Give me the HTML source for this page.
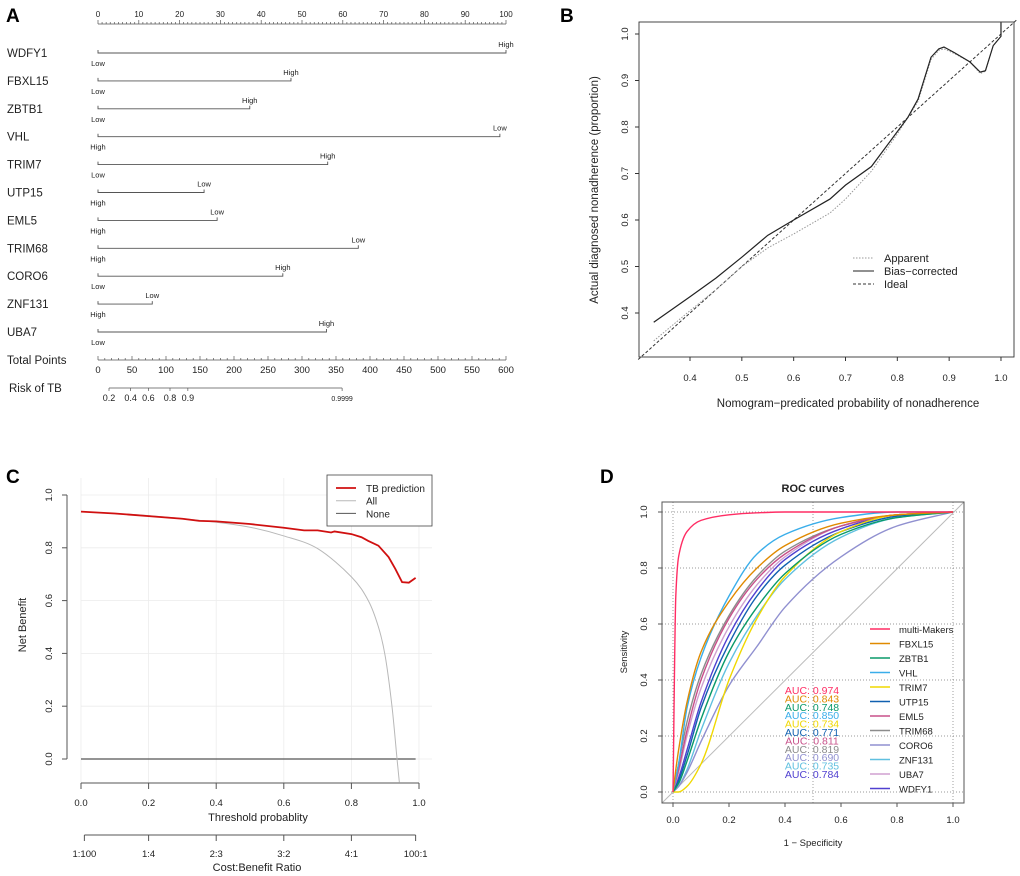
<!DOCTYPE html>
<html><head><meta charset="utf-8"><style>
html,body{margin:0;padding:0;background:#fff}
svg{display:block;font-family:"Liberation Sans",Arial,sans-serif}
</style></head><body>
<svg id="fig" width="1020" height="876" viewBox="0 0 1020 876" xmlns="http://www.w3.org/2000/svg">
<text x="6" y="22" font-size="19" font-weight="bold">A</text>
<text x="560" y="22" font-size="19" font-weight="bold">B</text>
<text x="6" y="483" font-size="19" font-weight="bold">C</text>
<text x="600" y="483" font-size="19" font-weight="bold">D</text>
</svg>
<script>
// ---------- data ----------
const nomoVars=['WDFY1','FBXL15','ZBTB1','VHL','TRIM7','UTP15','EML5','TRIM68','CORO6','ZNF131','UBA7'];
const nomoPoints=[100,47.3,37.2,98.5,56.3,26,29.2,63.8,45.3,13.3,56];
const nomoStart=['Low','Low','Low','High','Low','High','High','High','Low','High','Low'];
const nomoEnd=['High','High','High','Low','High','Low','Low','Low','High','Low','High'];
const riskTicks=[0.2,0.4,0.6,0.8,0.9,0.9999];
const riskTickLabels=['0.2','0.4','0.6','0.8','0.9','0.9999'];

const calX=[0.33,0.4,0.45,0.5,0.55,0.6,0.67,0.7,0.75,0.8,0.82,0.84,0.865,0.88,0.89,0.91,0.94,0.96,0.97,0.985,1.0,1.0];
const calBias=[0.38,0.435,0.475,0.52,0.567,0.6,0.645,0.675,0.715,0.79,0.82,0.86,0.95,0.968,0.972,0.96,0.94,0.918,0.921,0.975,0.995,1.025];
const calApparent=[0.34,0.405,0.45,0.5,0.54,0.57,0.615,0.645,0.705,0.785,0.82,0.855,0.945,0.965,0.968,0.958,0.94,0.915,0.92,0.975,0.995,1.025];
const calTicks=[0.4,0.5,0.6,0.7,0.8,0.9,1.0];

const dcaT=[0,0.1,0.2,0.3,0.35,0.4,0.5,0.6,0.66,0.7,0.74,0.75,0.8,0.83,0.85,0.88,0.91,0.93,0.95,0.97,0.99];
const dcaModel=[0.937,0.93,0.92,0.91,0.902,0.9,0.89,0.876,0.866,0.866,0.858,0.862,0.852,0.84,0.826,0.808,0.765,0.72,0.67,0.668,0.686];
const dcaAllT=[0,0.2,0.4,0.5,0.6,0.7,0.8,0.85,0.88,0.9,0.92,0.935,0.942];
const dcaAll=[0.937,0.922,0.897,0.878,0.845,0.797,0.69,0.6,0.5,0.39,0.2,0.0,-0.09];
const dcaTicks=[0,0.2,0.4,0.6,0.8,1.0];
const costT=[0.01,0.2,0.4,0.6,0.8,0.99];
const costLabels=['1:100','1:4','2:3','3:2','4:1','100:1'];

const rocFpr=[0,0.01,0.02,0.05,0.1,0.2,0.3,0.4,0.6,0.8,1];
const rocNames=['multi-Makers','FBXL15','ZBTB1','VHL','TRIM7','UTP15','EML5','TRIM68','CORO6','ZNF131','UBA7','WDFY1'];
const rocAUC=['0.974','0.843','0.748','0.850','0.734','0.771','0.811','0.819','0.690','0.735','0.784'];
const rocTpr=[
[0,0.7,0.84,0.93,0.97,0.99,0.997,1,1,1,1],
[0,0.08,0.15,0.32,0.5,0.68,0.8,0.88,0.96,0.99,1],
[0,0.015,0.03,0.11,0.26,0.5,0.66,0.78,0.92,0.98,1],
[0,0.05,0.1,0.3,0.48,0.7,0.85,0.92,0.98,1,1],
[0,0,0,0.02,0.1,0.4,0.62,0.77,0.93,0.99,1],
[0,0.02,0.04,0.13,0.3,0.53,0.7,0.81,0.93,0.985,1],
[0,0.04,0.08,0.22,0.4,0.62,0.76,0.85,0.95,0.99,1],
[0,0.05,0.1,0.25,0.42,0.63,0.77,0.86,0.95,0.99,1],
[0,0.01,0.02,0.07,0.18,0.38,0.52,0.66,0.84,0.95,1],
[0,0.01,0.02,0.08,0.22,0.46,0.63,0.76,0.91,0.98,1],
[0,0.035,0.07,0.2,0.37,0.59,0.74,0.84,0.95,0.99,1],
[0,0.025,0.05,0.15,0.32,0.56,0.72,0.83,0.94,0.99,1]];
const rocAUCOrder=['0.974','0.843','0.748','0.850','0.734','0.771','0.811','0.819','0.690','0.735','0.784'];
const rocColors=['#ff2d64','#e08a00','#0a9a6a','#3aaeea','#f0d800','#1060b0','#c8508a','#8c8c8c','#9090d0','#60c0e0','#d0a0d0','#5040d0'];

// ---------- helpers ----------
const NS='http://www.w3.org/2000/svg';
const svg=document.getElementById('fig');
function mk(tag,attrs,parent){const e=document.createElementNS(NS,tag);for(const k in attrs)e.setAttribute(k,attrs[k]);(parent||svg).appendChild(e);return e;}
function txt(x,y,s,size,extra){const e=mk('text',Object.assign({x:x,y:y,'font-size':size,fill:'#222'},extra||{}));e.textContent=s;return e;}
function smoothPath(pts){let d='M'+pts[0][0]+','+pts[0][1];for(let i=0;i<pts.length-1;i++){const p0=pts[i-1]||pts[i],p1=pts[i],p2=pts[i+1],p3=pts[i+2]||p2;const c1=[p1[0]+(p2[0]-p0[0])/6,p1[1]+(p2[1]-p0[1])/6],c2=[p2[0]-(p3[0]-p1[0])/6,p2[1]-(p3[1]-p1[1])/6];d+=' C'+c1[0]+','+c1[1]+' '+c2[0]+','+c2[1]+' '+p2[0]+','+p2[1];}return d;}
function monoPath(pts){const n=pts.length;const dx=[],s=[];for(let i=0;i<n-1;i++){dx.push(pts[i+1][0]-pts[i][0]);s.push((pts[i+1][1]-pts[i][1])/dx[i]);}
const m=[s[0]];for(let i=1;i<n-1;i++){if(s[i-1]*s[i]<=0)m.push(0);else{const w1=2*dx[i]+dx[i-1],w2=dx[i]+2*dx[i-1];m.push((w1+w2)/(w1/s[i-1]+w2/s[i]));}}m.push(s[n-2]);
let d='M'+pts[0][0]+','+pts[0][1];for(let i=0;i<n-1;i++){const h=dx[i]/3;d+=' C'+(pts[i][0]+h)+','+(pts[i][1]+m[i]*h)+' '+(pts[i+1][0]-h)+','+(pts[i+1][1]-m[i+1]*h)+' '+pts[i+1][0]+','+pts[i+1][1];}return d;}
function polyPath(pts){return 'M'+pts.map(p=>p[0]+','+p[1]).join(' L');}

// ---------- Panel A: nomogram ----------
const gA=mk('g',{});


const xA=p=>98+p*4.08;
const xTot=p=>98+p*0.68;
let ax=mk('line',{x1:xA(0),x2:xA(100),y1:24,y2:24,stroke:'#555','stroke-width':0.8},gA);


for(let p=0;p<=100;p++){const t=mk('line',{x1:xA(p),x2:xA(p),y1:24,y2:p%10===0?20:22,stroke:'#555','stroke-width':0.7},gA);


if(p%10===0){const l=txt(xA(p),17,String(p),8,{'text-anchor':'middle'});gA.appendChild(l);

}}
nomoVars.forEach((v,i)=>{const y=53+i*27.9;
const n=txt(7,y+4,v,11.5);gA.appendChild(n);


const ln=mk('path',{d:`M${xA(0)},${y-3} V${y} H${xA(nomoPoints[i])} V${y-3}`,fill:'none',stroke:'#555','stroke-width':0.9},gA);


const e=txt(xA(nomoPoints[i]),y-6,nomoEnd[i],7.5,{'text-anchor':'middle'});gA.appendChild(e);


const s=txt(xA(0),y+13,nomoStart[i],7.5,{'text-anchor':'middle'});gA.appendChild(s);

});
let tp=txt(7,364,'Total Points',11.5);gA.appendChild(tp);


ax=mk('line',{x1:xTot(0),x2:xTot(600),y1:360,y2:360,stroke:'#555','stroke-width':0.8},gA);


for(let p=0;p<=600;p+=10){const t=mk('line',{x1:xTot(p),x2:xTot(p),y1:360,y2:p%50===0?356:358,stroke:'#555','stroke-width':0.7},gA);


if(p%50===0){const l=txt(xTot(p),373,String(p),9.5,{'text-anchor':'middle'});gA.appendChild(l);

}}
let rk=txt(9,392,'Risk of TB',11.5);gA.appendChild(rk);


const logit=p=>Math.log(p/(1-p));
const xRisk=p=>109+(logit(p)-logit(0.2))*22;
ax=mk('line',{x1:xRisk(0.2),x2:xRisk(0.9999),y1:388,y2:388,stroke:'#555','stroke-width':0.8},gA);


riskTicks.forEach((r,i)=>{const t=mk('line',{x1:xRisk(r),x2:xRisk(r),y1:388,y2:391,stroke:'#555','stroke-width':0.7},gA);


const l=txt(xRisk(r),401,riskTickLabels[i],i===5?7:9,{'text-anchor':'middle'});gA.appendChild(l);

});

// ---------- Panel B: calibration ----------
const gB=mk('g',{});


const xB=v=>690+(v-0.4)*518.3, yB=v=>34+(1-v)*465;
let box=mk('rect',{x:639,y:22,width:375,height:335,fill:'none',stroke:'#333','stroke-width':0.9},gB);


calTicks.forEach(v=>{let t=mk('line',{x1:xB(v),x2:xB(v),y1:357,y2:361,stroke:'#333'},gB);


let l=txt(xB(v),381,v.toFixed(1),9.5,{'text-anchor':'middle'});gB.appendChild(l);


t=mk('line',{x1:635,x2:639,y1:yB(v),y2:yB(v),stroke:'#333'},gB);


l=txt(0,0,v.toFixed(1),9.5,{'text-anchor':'middle',transform:`translate(628,${yB(v)}) rotate(-90)`});gB.appendChild(l);

});
let bt=txt(0,0,'Actual diagnosed nonadherence (proportion)',11.5,{'text-anchor':'middle',transform:'translate(598,190) rotate(-90)'});gB.appendChild(bt);


bt=txt(848,407,'Nomogram\u2212predicated probability of nonadherence',11.5,{'text-anchor':'middle'});gB.appendChild(bt);


let idl=mk('line',{x1:xB(0.3),y1:yB(0.3),x2:xB(1.03),y2:yB(1.03),stroke:'#333','stroke-width':1,'stroke-dasharray':'3,2'},gB);


let ap=mk('path',{d:polyPath(calX.map((x,i)=>[xB(x),yB(calApparent[i])])),fill:'none',stroke:'#999','stroke-width':1,'stroke-dasharray':'1.5,1.5'},gB);


let bc=mk('path',{d:polyPath(calX.map((x,i)=>[xB(x),yB(calBias[i])])),fill:'none',stroke:'#222','stroke-width':1.2},gB);


[['Apparent','#999','1.5,1.5'],['Bias\u2212corrected','#222',''],['Ideal','#333','3,2']].forEach((L,i)=>{const y=258+i*13;
const l=mk('line',{x1:853,x2:874,y1:y,y2:y,stroke:L[1],'stroke-width':1.1,'stroke-dasharray':L[2]},gB);


const t=txt(884,y+4,L[0],11);gB.appendChild(t);

});

// ---------- Panel C: decision curve ----------
const gC=mk('g',{});


const xC=t=>81+t*338, yC=v=>759-v*264;
dcaTicks.forEach(v=>{let g=mk('line',{x1:xC(v),x2:xC(v),y1:478,y2:783,stroke:'#ececec','stroke-width':0.8},gC);


g=mk('line',{x1:xC(0),x2:432,y1:yC(v),y2:yC(v),stroke:'#ececec','stroke-width':0.8},gC);

});
let cax=mk('line',{x1:67,x2:67,y1:yC(1),y2:yC(0),stroke:'#555'},gC);


cax=mk('line',{x1:xC(0),x2:xC(1),y1:783,y2:783,stroke:'#555'},gC);


cax=mk('line',{x1:xC(costT[0]),x2:xC(costT[5]),y1:835,y2:835,stroke:'#555'},gC);


dcaTicks.forEach(v=>{let t=mk('line',{x1:62,x2:67,y1:yC(v),y2:yC(v),stroke:'#555'},gC);


let l=txt(0,0,v.toFixed(1),9.5,{'text-anchor':'middle',transform:`translate(52,${yC(v)}) rotate(-90)`});gC.appendChild(l);


t=mk('line',{x1:xC(v),x2:xC(v),y1:783,y2:789,stroke:'#555'},gC);


l=txt(xC(v),806,v.toFixed(1),9.5,{'text-anchor':'middle'});gC.appendChild(l);

});
costT.forEach((v,i)=>{const t=mk('line',{x1:xC(v),x2:xC(v),y1:835,y2:841,stroke:'#555'},gC);


const l=txt(xC(v),857,costLabels[i],9.5,{'text-anchor':'middle'});gC.appendChild(l);

});
let ct=txt(258,821,'Threshold probablity',11,{'text-anchor':'middle'});gC.appendChild(ct);


ct=txt(257,871,'Cost:Benefit Ratio',11,{'text-anchor':'middle'});gC.appendChild(ct);


ct=txt(0,0,'Net Benefit',11,{'text-anchor':'middle',transform:'translate(26,625) rotate(-90)'});gC.appendChild(ct);


let none=mk('line',{x1:xC(0),x2:xC(0.99),y1:yC(0),y2:yC(0),stroke:'#555','stroke-width':1.2},gC);


let all=mk('path',{d:smoothPath(dcaAllT.map((t,i)=>[xC(t),yC(dcaAll[i])])),fill:'none',stroke:'#b8b8b8','stroke-width':1},gC);


let mdl=mk('path',{d:polyPath(dcaT.map((t,i)=>[xC(t),yC(dcaModel[i])])),fill:'none',stroke:'#d01010','stroke-width':1.8},gC);


let lb=mk('rect',{x:327,y:475,width:105,height:51,fill:'#fff',stroke:'#444','stroke-width':0.8},gC);


[['TB prediction','#d01010',1.8],['All','#b8b8b8',1],['None','#555',1]].forEach((L,i)=>{const y=488+i*12.7;
const l=mk('line',{x1:336,x2:356,y1:y,y2:y,stroke:L[1],'stroke-width':L[2]},gC);


const t=txt(366,y+4,L[0],10);gC.appendChild(t);

});

// ---------- Panel D: ROC ----------
const gD=mk('g',{});


const xD=v=>673+v*280, yD=v=>792-v*280;
let rt=txt(813,492,'ROC curves',11,{'text-anchor':'middle','font-weight':'bold'});gD.appendChild(rt);


[0,0.5,1].forEach(v=>{const g=mk('line',{x1:xD(v),x2:xD(v),y1:502,y2:803,stroke:'#777','stroke-width':0.7,'stroke-dasharray':'1,2'},gD);

});
[0,0.2,0.4,0.6,0.8,1].forEach(v=>{const g=mk('line',{x1:662,x2:964,y1:yD(v),y2:yD(v),stroke:'#777','stroke-width':0.7,'stroke-dasharray':'1,2'},gD);


let t=mk('line',{x1:xD(v),x2:xD(v),y1:803,y2:807,stroke:'#555'},gD);


let l=txt(xD(v),823,v.toFixed(1),9.5,{'text-anchor':'middle'});gD.appendChild(l);


t=mk('line',{x1:658,x2:662,y1:yD(v),y2:yD(v),stroke:'#555'},gD);


l=txt(0,0,v.toFixed(1),9.5,{'text-anchor':'middle',transform:`translate(647,${yD(v)}) rotate(-90)`});gD.appendChild(l);

});
let dg=mk('line',{x1:662,y1:803,x2:964,y2:502,stroke:'#bbb','stroke-width':1},gD);


for(let k=rocNames.length-1;k>=0;k--){const p=mk('path',{d:monoPath(rocFpr.map((f,i)=>[xD(f),yD(rocTpr[k][i])])),fill:'none',stroke:rocColors[k],'stroke-width':1.4},gD);

}
let fr=mk('rect',{x:662,y:502,width:302,height:301,fill:'none',stroke:'#555','stroke-width':1},gD);


let dx=txt(813,846,'1 \u2212 Specificity',9.5,{'text-anchor':'middle'});gD.appendChild(dx);


dx=txt(0,0,'Sensitivity',9.5,{'text-anchor':'middle',transform:'translate(627,652) rotate(-90)'});gD.appendChild(dx);


rocNames.forEach((n,i)=>{const y=629+i*14.5;
const l=mk('line',{x1:870,x2:890,y1:y,y2:y,stroke:rocColors[i],'stroke-width':1.6},gD);


const t=txt(899,y+4,n,9.5);gD.appendChild(t);

});
rocAUCOrder.forEach((a,i)=>{const t=txt(812,694+i*8.4,'AUC: '+a,10.5,{'text-anchor':'middle',fill:rocColors[i==10?11:i]});gD.appendChild(t);

});
</script>
</body></html>
